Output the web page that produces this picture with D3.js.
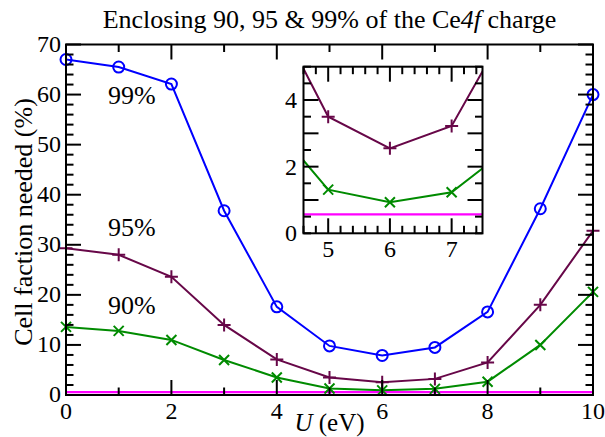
<!DOCTYPE html>
<html><head><meta charset="utf-8">
<script src="https://cdn.jsdelivr.net/npm/d3@7"></script>
<style>
html,body{margin:0;padding:0;background:#fff;}
svg{display:block;}
text{font-family:"Liberation Serif","Times New Roman",serif;fill:#000;}
</style></head>
<body>
<svg id="c" width="605" height="437"></svg>
<script>
// ---- data ----
const U = [0, 1, 2, 3, 4, 5, 6, 7, 8, 9, 10];
const p99 = [67.0, 65.5, 62.1, 36.8, 17.6, 9.8, 7.9, 9.5, 16.6, 37.2, 60.0];
const p95 = [29.3, 28.0, 23.6, 14.0, 7.1, 3.5, 2.55, 3.22, 6.5, 18.0, 32.8];
const p90 = [13.6, 12.8, 11.0, 7.0, 3.5, 1.31, 0.93, 1.23, 2.66, 10.0, 20.6];
const refU = [0, 10];
const refY = [0.57, 0.57];
const xTicks = [0, 2, 4, 6, 8, 10];
const yTicks = [0, 10, 20, 30, 40, 50, 60, 70];
const insetXTicks = [5, 6, 7];
const insetYLabels = [0, 2, 4];
const seriesLabels = ["99%", "95%", "90%"];
const titleParts = ["Enclosing 90, 95 & 99% of the Ce", "4f", " charge"];

const svg = d3.select("#c");
const colors = {p99: "#0000ff", p95: "#670748", p90: "#008b00", ref: "#ff00ff"};

// ---- main plot ----
const L = 66, R = 593, T = 44.5, B = 395;
const x = d3.scaleLinear().domain([0, 10]).range([L, R]);
const y = d3.scaleLinear().domain([0, 70]).range([B, T]);

function drawFrame(g, xs, ys, xMajor, xMinor, yMajor, yMinor, majLen, minLen, sw) {
  const [x0, x1] = xs.range(), [y0, y1] = ys.range();
  const ticks = g.append("g").attr("stroke", "#000").attr("stroke-width", sw);
  xMinor.forEach(v => {
    const len = xMajor.some(m => Math.abs(m - v) < 1e-9) ? majLen : minLen;
    ticks.append("line").attr("x1", xs(v)).attr("x2", xs(v)).attr("y1", y0).attr("y2", y0 - len);
    ticks.append("line").attr("x1", xs(v)).attr("x2", xs(v)).attr("y1", y1).attr("y2", y1 + len);
  });
  yMinor.forEach(v => {
    const len = yMajor.some(m => Math.abs(m - v) < 1e-9) ? majLen : minLen;
    ticks.append("line").attr("y1", ys(v)).attr("y2", ys(v)).attr("x1", x0).attr("x2", x0 + len);
    ticks.append("line").attr("y1", ys(v)).attr("y2", ys(v)).attr("x1", x1).attr("x2", x1 - len);
  });
  g.append("rect").attr("x", x0).attr("y", y1).attr("width", x1 - x0).attr("height", y0 - y1)
    .attr("fill", "none").attr("stroke", "#000").attr("stroke-width", sw);
}

const main = svg.append("g");
main.append("clipPath").attr("id", "mclip").append("rect")
  .attr("x", L).attr("y", T).attr("width", R - L).attr("height", B - T);

const line = (xs, ys) => d3.line().x(d => xs(d[0])).y(d => ys(d[1]));

function drawSeries(g, xs, ys, clipId, withMarkers) {
  const lg = g.append("g").attr("clip-path", `url(#${clipId})`);
  lg.append("path").datum(refU.map((u, i) => [u, refY[i]]))
    .attr("d", line(xs, ys)).attr("fill", "none").attr("stroke", colors.ref).attr("stroke-width", 2.2);
  [["p90", p90], ["p95", p95], ["p99", p99]].forEach(([k, arr]) => {
    lg.append("path").datum(U.map((u, i) => [u, arr[i]]))
      .attr("d", line(xs, ys)).attr("fill", "none").attr("stroke", colors[k]).attr("stroke-width", 2);
  });
  const [dx0, dx1] = xs.domain();
  const inDom = u => u >= dx0 - 1e-9 && u <= dx1 + 1e-9;
  const mk = g.append("g");
  U.forEach((u, i) => {
    if (!inDom(u) || !withMarkers.p99) return;
    mk.append("circle").attr("cx", xs(u)).attr("cy", ys(p99[i])).attr("r", 5.5)
      .attr("fill", "none").attr("stroke", colors.p99).attr("stroke-width", 2);
  });
  U.forEach((u, i) => {
    if (!inDom(u)) return;
    const cx = xs(u), cy = ys(p95[i]), s = 6.5;
    mk.append("path").attr("d", `M${cx - s},${cy}H${cx + s}M${cx},${cy - s}V${cy + s}`)
      .attr("stroke", colors.p95).attr("stroke-width", 2).attr("fill", "none");
  });
  U.forEach((u, i) => {
    if (!inDom(u)) return;
    const cx = xs(u), cy = ys(p90[i]), s = 5;
    mk.append("path").attr("d", `M${cx - s},${cy - s}L${cx + s},${cy + s}M${cx - s},${cy + s}L${cx + s},${cy - s}`)
      .attr("stroke", colors.p90).attr("stroke-width", 2).attr("fill", "none");
  });
}

drawSeries(main, x, y, "mclip", {p99: true});
drawFrame(main, x, y, xTicks, d3.range(0, 10.001, 1), yTicks, d3.range(0, 70.001, 2), 15, 7.5, 2);

main.selectAll(".xl").data(xTicks).enter().append("text")
  .attr("x", d => x(d)).attr("y", 419).attr("text-anchor", "middle")
  .attr("font-size", 24).text(d => d);
main.selectAll(".yl").data(yTicks).enter().append("text")
  .attr("x", 61).attr("y", d => y(d) + 7).attr("text-anchor", "end")
  .attr("font-size", 24).text(d => d);

const xt = main.append("text").attr("x", x(5)).attr("y", 431).attr("text-anchor", "middle").attr("font-size", 25);
xt.append("tspan").attr("font-style", "italic").text("U");
xt.append("tspan").text(" (eV)");
main.append("text").attr("transform", "translate(32,222) rotate(-90)")
  .attr("text-anchor", "middle").attr("font-size", 26).text("Cell faction needed (%)");

const tt = svg.append("text").attr("x", x(5)).attr("y", 28).attr("text-anchor", "middle").attr("font-size", 26);
tt.append("tspan").text(titleParts[0]);
tt.append("tspan").attr("font-style", "italic").text(titleParts[1]);
tt.append("tspan").text(titleParts[2]);

const labelPos = [[108, 104], [108, 236], [108, 314]];
seriesLabels.forEach((s, i) => {
  main.append("text").attr("x", labelPos[i][0]).attr("y", labelPos[i][1]).attr("font-size", 26).text(s);
});

// ---- inset ----
const iL = 303.5, iR = 482.5, iT = 66.7, iB = 233.3;
const ix = d3.scaleLinear().domain([4.6, 7.5]).range([iL, iR]);
const iy = d3.scaleLinear().domain([0, 5]).range([iB, iT]);
const inset = svg.append("g");
inset.append("rect").attr("x", iL).attr("y", iT).attr("width", iR - iL).attr("height", iB - iT).attr("fill", "#fff");
inset.append("clipPath").attr("id", "iclip").append("rect")
  .attr("x", iL).attr("y", iT).attr("width", iR - iL).attr("height", iB - iT);
drawSeries(inset, ix, iy, "iclip", {p99: false});
drawFrame(inset, ix, iy, [5, 6, 7], d3.range(4.6, 7.5, 0.2).map(v => Math.round(v * 10) / 10),
  [1, 2, 3, 4], d3.range(0, 5.001, 0.5), 15, 7.5, 2);
inset.selectAll(".ixl").data(insetXTicks).enter().append("text")
  .attr("x", d => ix(d)).attr("y", 257).attr("text-anchor", "middle").attr("font-size", 24).text(d => d);
inset.selectAll(".iyl").data(insetYLabels).enter().append("text")
  .attr("x", 297).attr("y", d => iy(d) + 8).attr("text-anchor", "end").attr("font-size", 24).text(d => d);
</script>
</body></html>
